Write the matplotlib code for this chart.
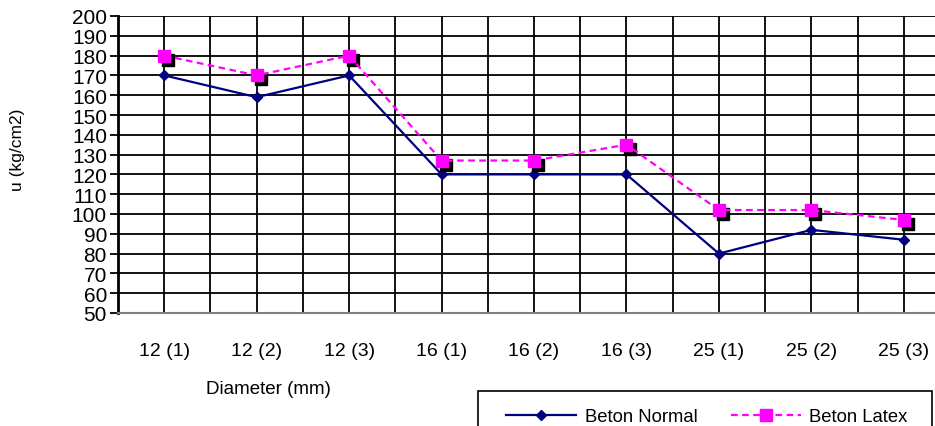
import matplotlib.pyplot as plt
import matplotlib.patches as mpatches
import matplotlib.transforms as mtransforms
import numpy as np

categories = ["12 (1)", "12 (2)", "12 (3)", "16 (1)", "16 (2)", "16 (3)", "25 (1)", "25 (2)", "25 (3)"]
beton_normal = [170, 159, 170, 120, 120, 120, 80, 92, 87]
beton_latex = [180, 170, 180, 127, 127, 135, 102, 102, 97]

plt.rcParams['font.family'] = ['Liberation Sans', 'DejaVu Sans']

fig = plt.figure(figsize=(9.35, 4.27), dpi=100)
ax = fig.add_axes([118 / 935, 113 / 427, 832 / 935, 297 / 427])

x = np.arange(len(categories))

# grid: horizontal every 10, vertical every half category
for yv in range(60, 201, 10):
    ax.axhline(yv, color="black", linewidth=1.3, zorder=1)
for xv in np.arange(0, len(categories) + 0.5, 0.5):
    ax.axvline(xv - 0.5, color="black", linewidth=1.3, zorder=1)

ax.plot(x, beton_normal, color="#000080", linewidth=1.6, marker="D", markersize=5,
        label="Beton Normal", zorder=3)
shadow = mtransforms.offset_copy(ax.transData, fig=fig, x=4, y=-4, units="dots")
ax.plot(x, beton_latex, linestyle="none", marker="s", markersize=8, color="black",
        transform=shadow, zorder=4)
ax.plot(x, beton_latex, color="#FF00FF", linewidth=1.6, linestyle=(0, (3, 2)),
        marker="s", markersize=8, label="Beton Latex", zorder=5)

ax.set_xlim(-0.5, len(categories) - 0.5)
ax.set_ylim(50, 200)
ax.set_yticks(range(50, 201, 10))
ax.tick_params(axis="y", labelsize=15, length=6, width=1.3, pad=2)
ax.set_xticks(x)
ax.set_xticklabels(categories)
ax.tick_params(axis="x", labelsize=14, length=0, pad=21)

ax.spines["left"].set_linewidth(2)
ax.spines["bottom"].set_color("#808080")
ax.spines["bottom"].set_linewidth(1.5)
ax.spines["top"].set_visible(False)
ax.spines["right"].set_visible(False)

fig.text(18 / 935, 1 - 150 / 427, "u (kg/cm2)", rotation=90, fontsize=12.5,
         ha="center", va="center")
fig.text(268 / 935, 1 - 390 / 427, "Diameter (mm)", fontsize=13.5,
         ha="center", va="center")

# legend box (cut by the bottom edge like the original)
box = mpatches.Rectangle((478 / 935, 1 - 460 / 427), 454 / 935, 68 / 427,
                         transform=fig.transFigure, fill=False, edgecolor="black",
                         linewidth=1.2)
fig.patches.append(box)
fig.legend(loc="upper left", bbox_to_anchor=(506 / 935, 1 - 409 / 427), ncol=2,
           fontsize=13.3, handlelength=3.8, handletextpad=0.45, columnspacing=1.8,
           frameon=False, borderpad=0, borderaxespad=0)

plt.savefig("out.png", dpi=100)
